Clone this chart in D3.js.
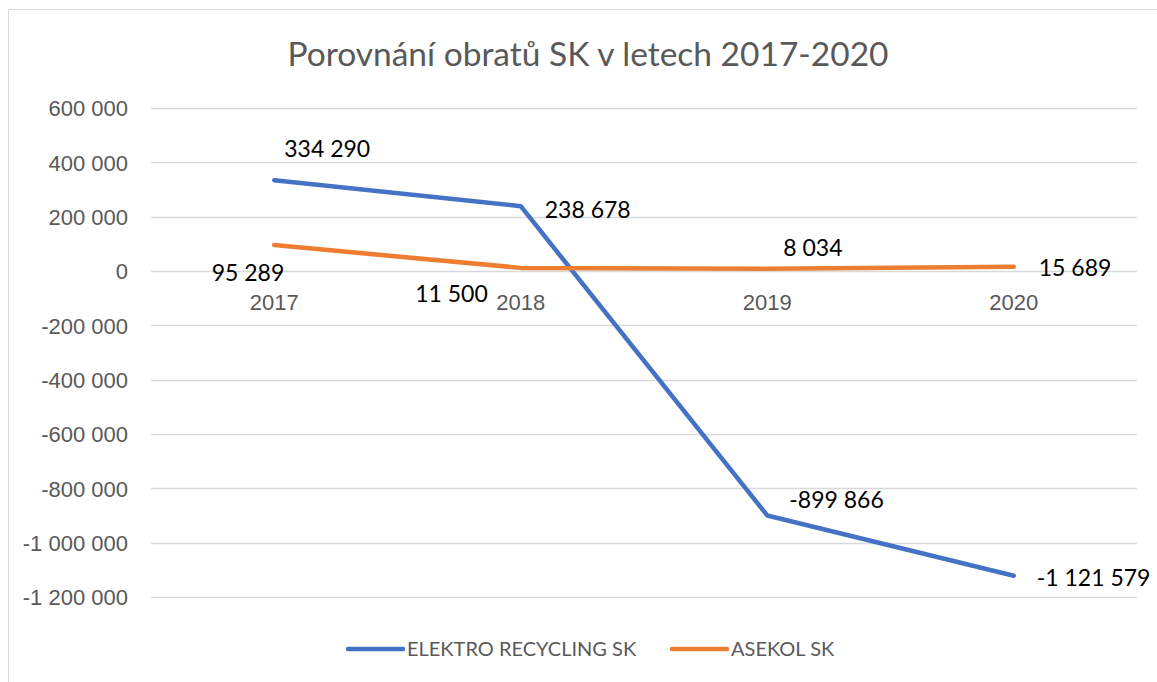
<!DOCTYPE html>
<html>
<head>
<meta charset="utf-8">
<script src="https://cdn.jsdelivr.net/npm/d3@7"></script>
<style>
  body { margin: 0; background: #fff; }
  svg { font-family: Lato, "Open Sans", sans-serif; }
</style>
</head>
<body>
<svg id="chart"></svg>
<script>
// chart data
var years = ['2017', '2018', '2019', '2020'];
var elektroValues = [334290, 238678, -899866, -1121579];
var asekolValues = [95289, 11500, 8034, 15689];
var seriesNames = ['ELEKTRO RECYCLING SK', 'ASEKOL SK'];
var yTicks = [600000, 400000, 200000, 0, -200000, -400000, -600000, -800000, -1000000, -1200000];

var width = 1157;
var height = 682;
var colors = ['#4472C4', '#ED7D31'];

var svg = d3.select('#chart')
    .attr('width', width)
    .attr('height', height);

// outer chart frame
svg.append('rect')
    .attr('x', 8.5).attr('y', 9.5)
    .attr('width', 1200).attr('height', 800)
    .attr('fill', 'none')
    .attr('stroke', '#d9d9d9')
    .attr('stroke-width', 1);

var plotLeft = 151, plotRight = 1137, plotTop = 108, plotBottom = 597;

var x = d3.scaleBand()
    .domain(years)
    .range([plotLeft, plotRight]);

var y = d3.scaleLinear()
    .domain([-1200000, 600000])
    .range([plotBottom, plotTop]);

function fmt(v) {
    var s = d3.format(',')(Math.abs(v)).replace(/,/g, ' ');
    return (v < 0 ? '-' : '') + s;
}

// gridlines
svg.append('g')
    .selectAll('line')
    .data(yTicks)
    .enter().append('line')
    .attr('x1', plotLeft).attr('x2', plotRight)
    .attr('y1', function(d) { return Math.round(y(d)) + 0.5; })
    .attr('y2', function(d) { return Math.round(y(d)) + 0.5; })
    .attr('stroke', '#d9d9d9')
    .attr('stroke-width', 1.3);

// y axis labels
var yAxis = d3.axisLeft(y).tickValues(yTicks).tickFormat(fmt).tickSize(0).tickPadding(23);
var yg = svg.append('g')
    .attr('transform', 'translate(' + plotLeft + ',0)')
    .call(yAxis);
yg.select('.domain').remove();
yg.selectAll('text')
    .attr('fill', '#595959')
    .style('font-size', '22px')
    .attr('dy', '0.36em');

// category labels sit under the zero line
var xAxis = d3.axisBottom(x).tickSize(0).tickPadding(23);
var xg = svg.append('g')
    .attr('transform', 'translate(0,' + y(0) + ')')
    .call(xAxis);
xg.select('.domain').remove();
xg.selectAll('text')
    .attr('fill', '#595959')
    .style('font-size', '22px');

// title
svg.append('text')
    .attr('x', 588).attr('y', 66)
    .attr('text-anchor', 'middle')
    .attr('fill', '#595959')
    .style('font-size', '33.5px')
    .text('Porovnání obratů SK v letech 2017-2020');

var series = [elektroValues, asekolValues];

var line = d3.line()
    .x(function(d, i) { return x(years[i]) + x.bandwidth() / 2; })
    .y(function(d) { return y(d); });

svg.append('g')
    .selectAll('path')
    .data(series)
    .enter().append('path')
    .attr('d', line)
    .attr('fill', 'none')
    .attr('stroke', function(d, i) { return colors[i]; })
    .attr('stroke-width', 4.5)
    .attr('stroke-linejoin', 'round')
    .attr('stroke-linecap', 'round');

// data label placement (dx, dy from point, anchor)
var labelPos = [
    [[10, -31, 'start'], [24, 4, 'start'], [22, -16, 'start'], [23, 2, 'start']],
    [[10, 28, 'end'], [-33, 26, 'end'], [16, -21, 'start'], [25, 1, 'start']]
];

series.forEach(function(vals, s) {
    svg.append('g')
        .selectAll('text')
        .data(vals)
        .enter().append('text')
        .attr('x', function(d, i) { return x(years[i]) + x.bandwidth() / 2 + labelPos[s][i][0]; })
        .attr('y', function(d, i) { return y(d) + labelPos[s][i][1]; })
        .attr('text-anchor', function(d, i) { return labelPos[s][i][2]; })
        .attr('dy', '0.36em')
        .attr('fill', '#000')
        .style('font-size', '23px')
        .text(fmt);
});

// legend
var legendX = [348, 672];
var legend = svg.append('g')
    .selectAll('g')
    .data(seriesNames)
    .enter().append('g')
    .attr('transform', function(d, i) { return 'translate(' + legendX[i] + ',649)'; });

legend.append('line')
    .attr('x1', 0).attr('x2', 55)
    .attr('stroke', function(d, i) { return colors[i]; })
    .attr('stroke-width', 4.5)
    .attr('stroke-linecap', 'round');

legend.append('text')
    .attr('x', 59)
    .attr('dy', '0.36em')
    .attr('fill', '#595959')
    .style('font-size', '20px')
    .text(function(d) { return d; });
</script>
</body>
</html>
